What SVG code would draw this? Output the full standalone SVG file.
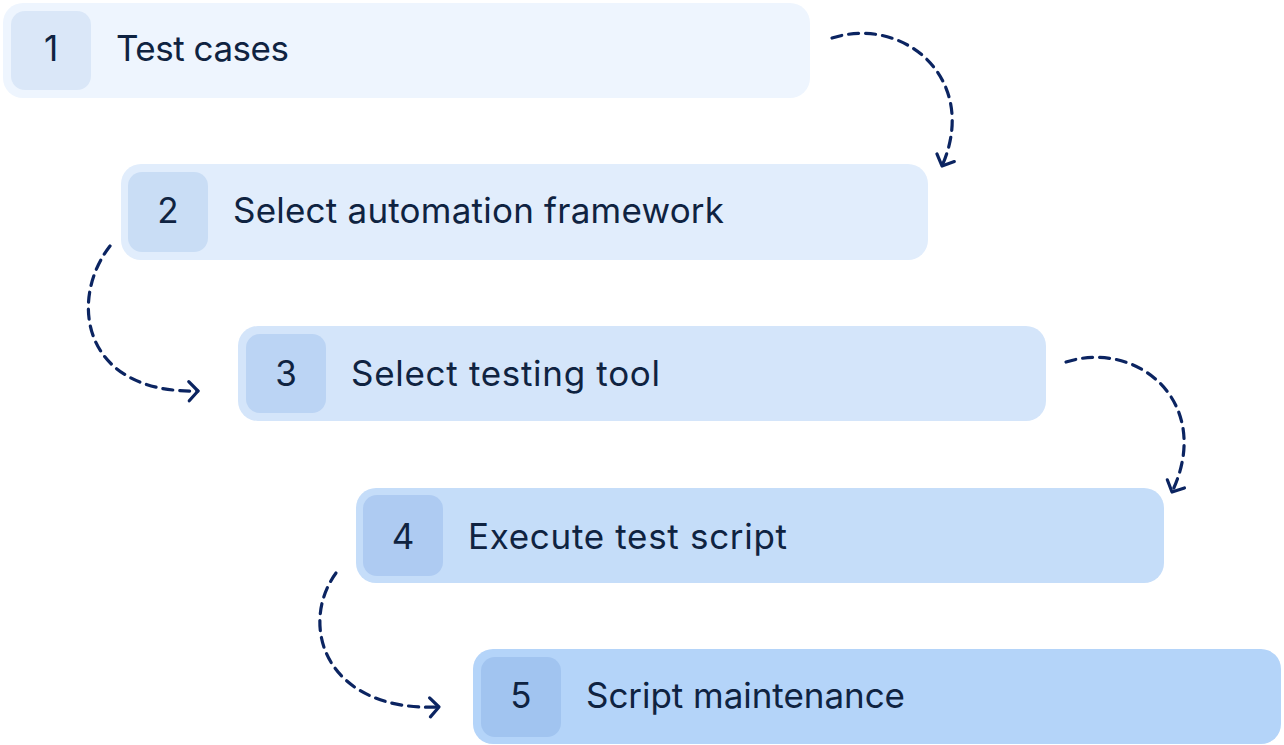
<svg xmlns="http://www.w3.org/2000/svg" width="1284" height="745" viewBox="0 0 1284 745">
  <defs>
    <style>
      .lbl { font-family: Inter, "Liberation Sans", sans-serif; font-size: 35px; fill: #0f2341; }
      .num { font-family: Inter, "Liberation Sans", sans-serif; font-size: 35px; fill: #0f2341; text-anchor: middle; }
      .conn { fill: none; stroke: #0b2461; stroke-width: 3.2; stroke-dasharray: 10 7; stroke-linecap: round; marker-end: url(#head); }
    </style>
    <marker id="head" markerUnits="userSpaceOnUse" markerWidth="30" markerHeight="30" refX="0" refY="0" viewBox="-15 -15 30 30" orient="auto" overflow="visible">
      <path d="M-9,-9.5 L0,0 L-9,9.5" fill="none" stroke="#0b2461" stroke-width="3.2" stroke-linecap="round" stroke-linejoin="round"/>
    </marker>
  </defs>
  <rect width="1284" height="745" fill="#ffffff"/>

  <g id="node1">
    <rect x="3" y="3" width="807" height="95" rx="20" fill="#eef5fe"/>
    <rect x="11" y="11" width="80" height="79" rx="14" fill="#dae7f8"/>
    <text class="num" x="51" y="61">1</text>
    <text class="lbl" x="116" y="61" textLength="173" lengthAdjust="spacing">Test cases</text>
  </g>
  <g id="node2">
    <rect x="121" y="164" width="807" height="96" rx="20" fill="#e1edfc"/>
    <rect x="128" y="172" width="80" height="80" rx="14" fill="#c9ddf5"/>
    <text class="num" x="168" y="222.5">2</text>
    <text class="lbl" x="233" y="222.5" textLength="491" lengthAdjust="spacing">Select automation framework</text>
  </g>
  <g id="node3">
    <rect x="238" y="326" width="808" height="95" rx="20" fill="#d4e5fa"/>
    <rect x="246" y="334" width="80" height="79" rx="14" fill="#bbd4f4"/>
    <text class="num" x="286" y="386">3</text>
    <text class="lbl" x="351" y="386" textLength="309" lengthAdjust="spacing">Select testing tool</text>
  </g>
  <g id="node4">
    <rect x="356" y="488" width="808" height="95" rx="20" fill="#c5ddf9"/>
    <rect x="363" y="495" width="80" height="81" rx="14" fill="#aecbf2"/>
    <text class="num" x="403" y="549">4</text>
    <text class="lbl" x="468" y="549" textLength="319" lengthAdjust="spacing">Execute test script</text>
  </g>
  <g id="node5">
    <rect x="473" y="649" width="808" height="95" rx="20" fill="#b4d4f9"/>
    <rect x="481" y="657" width="80" height="80" rx="14" fill="#a1c4f0"/>
    <text class="num" x="521" y="707.5">5</text>
    <text class="lbl" x="586" y="707.5" textLength="319" lengthAdjust="spacing">Script maintenance</text>
  </g>

  <g id="connectors">
    <path class="conn" d="M832,38 C905,15 980,80 942,166"/>
    <path class="conn" d="M110,246 C68,300 82,394 198,391"/>
    <path class="conn" d="M1066,362 C1139,339 1214,404 1172,492"/>
    <path class="conn" d="M336,573 C298,625 325,712 439,707"/>
  </g>
</svg>
